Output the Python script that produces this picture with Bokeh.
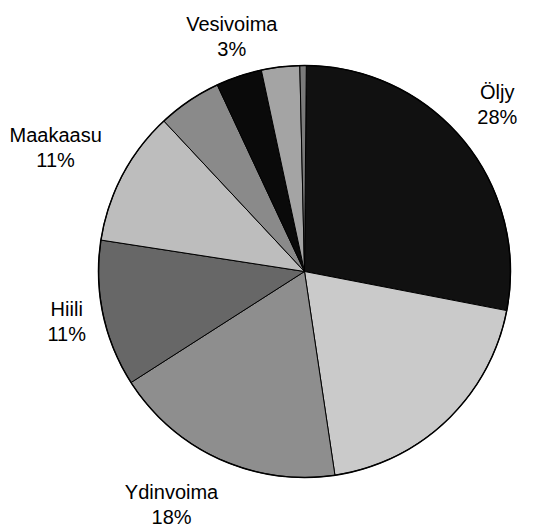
import numpy as np
from bokeh.plotting import figure
from bokeh.models import ColumnDataSource, Range1d
from bokeh.core.properties import value
from bokeh.embed import file_html
from bokeh.resources import INLINE

# --- data (percent shares, clockwise from 12 o'clock) ---
sources = ["Öljy", "Puu", "Ydinvoima", "Hiili", "Maakaasu", "Turve", "Vesivoima", "Tuontisähkö", "Muut"]
shares = [27.9, 19.6, 18.3, 11.5, 10.6, 5.0, 3.6, 3.0, 0.5]
label_text = ["Öljy\n28%", "", "Ydinvoima\n18%", "Hiili\n11%", "Maakaasu\n11%", "", "Vesivoima\n3%", "", ""]

# --- style ---
colors = ["#111111", "#cacaca", "#8e8e8e", "#676767", "#bdbdbd", "#8a8a8a", "#0a0a0a", "#a4a4a4", "#7a7a7a"]
label_radius = [255, 0, 268, 243, 278, 0, 246, 0, 0]
label_turn_deg = [-1.6, 0, 5.3, 0.0, -1.4, 0, 1.4, 0, 0]   # clockwise nudge
cx, cy, R = 304, 256, 206
rot = np.deg2rad(0.5)

vals = np.array(shares, dtype=float)
frac = vals / vals.sum()
cum_end = np.cumsum(frac)
cum_start = cum_end - frac
start = np.pi / 2 - 2 * np.pi * cum_start - rot
end = np.pi / 2 - 2 * np.pi * cum_end - rot
mid = (start + end) / 2

src = ColumnDataSource(dict(
    x=[cx] * len(vals), y=[cy] * len(vals),
    start=start, end=end, color=colors, name=sources,
))

p = figure(width=530, height=527, x_range=Range1d(0, 530), y_range=Range1d(0, 527),
           output_backend="svg", toolbar_location=None, min_border=0)
p.axis.visible = False
p.grid.visible = False
p.outline_line_color = None
p.background_fill_color = "white"
p.border_fill_color = "white"

p.wedge(x="x", y="y", radius=R, start_angle="start", end_angle="end", direction="clock",
        fill_color="color", line_color="black", line_width=1, source=src)
p.circle(x=[cx], y=[cy], radius=R, fill_color=None, line_color="black", line_width=1.5)

idx = [i for i, t in enumerate(label_text) if t]
th = [mid[i] - np.deg2rad(label_turn_deg[i]) for i in idx]
lx = [cx + label_radius[i] * np.cos(t) for i, t in zip(idx, th)]
ly = [cy + label_radius[i] * np.sin(t) for i, t in zip(idx, th)]
lt = [label_text[i] for i in idx]
p.text(x=lx, y=ly, text=lt, text_align="center", text_baseline="middle",
       text_font=value("Liberation Sans"), text_font_size="20px", text_color="black",
       text_line_height=1.15)

open("out.html", "w").write(file_html(p, INLINE))
